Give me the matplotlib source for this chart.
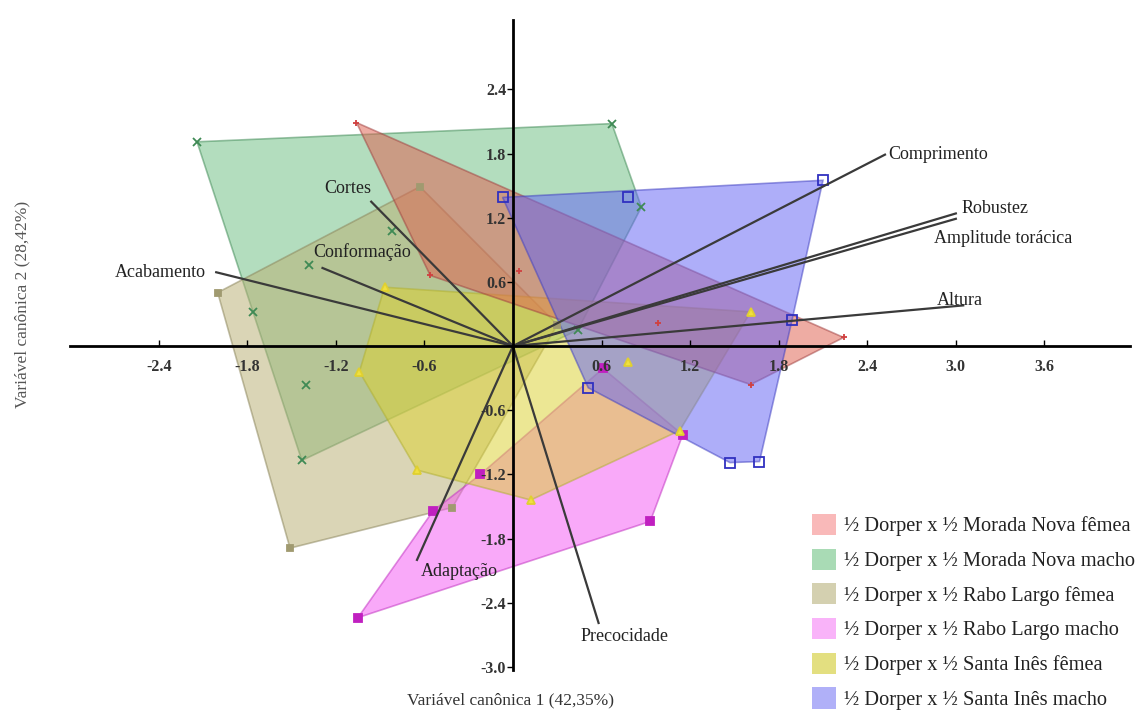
import numpy as np
import matplotlib
matplotlib.use("Agg")
import matplotlib.pyplot as plt
from matplotlib.patches import Polygon, Patch

plt.rcParams['font.family'] = ['Liberation Serif', 'DejaVu Serif']

# group names
groups = ["½ Dorper x ½ Morada Nova fêmea",
          "½ Dorper x ½ Morada Nova macho",
          "½ Dorper x ½ Rabo Largo fêmea",
          "½ Dorper x ½ Rabo Largo macho",
          "½ Dorper x ½ Santa Inês fêmea",
          "½ Dorper x ½ Santa Inês macho"]

# hull vertices of each group (canonical scores, CV1 / CV2)
mn_f_x = [-1.06, 2.24, 1.61, -0.56]
mn_f_y = [2.09, 0.08, -0.36, 0.66]
mn_m_x = [-2.14, 0.67, 0.87, 0.44, -1.43]
mn_m_y = [1.91, 2.08, 1.30, 0.15, -1.07]
rl_f_x = [-2.00, -0.63, 0.30, -0.41, -1.51]
rl_f_y = [0.50, 1.49, 0.20, -1.51, -1.89]
rl_m_x = [-1.05, -0.54, -0.22, 0.61, 1.15, 0.93]
rl_m_y = [-2.54, -1.54, -1.20, -0.21, -0.83, -1.64]
si_f_x = [-0.87, 1.61, 1.13, 0.12, -0.65, -1.04]
si_f_y = [0.55, 0.32, -0.79, -1.44, -1.16, -0.24]
si_m_x = [-0.07, 2.10, 1.89, 1.67, 1.47, 0.51]
si_m_y = [1.39, 1.55, 0.24, -1.08, -1.09, -0.39]

# points inside the hulls
mn_f_in_x = [0.04, 0.98]
mn_f_in_y = [0.70, 0.22]
mn_m_in_x = [-1.76, -1.40, -1.38, -0.82]
mn_m_in_y = [0.32, -0.36, 0.76, 1.08]
rl_f_in_x = []
rl_f_in_y = []
rl_m_in_x = []
rl_m_in_y = []
si_f_in_x = [0.78]
si_f_in_y = [-0.15]
si_m_in_x = [0.78]
si_m_in_y = [1.39]

# variable vectors
var_names = ["Comprimento", "Robustez", "Amplitude torácica", "Altura",
             "Acabamento", "Conformação", "Cortes", "Adaptação",
             "Precocidade"]
var_x = [2.52, 3.00, 3.00, 3.05, -2.01, -1.29, -0.96, -0.65, 0.58]
var_y = [1.79, 1.24, 1.19, 0.38, 0.69, 0.73, 1.35, -2.00, -2.59]

xticks = [-2.4, -1.8, -1.2, -0.6, 0.6, 1.2, 1.8, 2.4, 3.0, 3.6]
yticks = [-3.0, -2.4, -1.8, -1.2, -0.6, 0.6, 1.2, 1.8, 2.4]

hulls = [(mn_f_x, mn_f_y), (mn_m_x, mn_m_y), (rl_f_x, rl_f_y),
         (rl_m_x, rl_m_y), (si_f_x, si_f_y), (si_m_x, si_m_y)]
inner = [(mn_f_in_x, mn_f_in_y), (mn_m_in_x, mn_m_in_y),
         (rl_f_in_x, rl_f_in_y), (rl_m_in_x, rl_m_in_y),
         (si_f_in_x, si_f_in_y), (si_m_in_x, si_m_in_y)]

fill_colors = ["#e06050", "#6ebe84", "#b9af73", "#f55af5", "#dcd232", "#6464f5"]
edge_colors = ["#a04040", "#3f8a55", "#8a845a", "#c030c0", "#b0b030", "#4040c0"]
legend_colors = ["#f9b9b9", "#a9dbb5", "#d4d0b0", "#f9b3f9", "#e3df80", "#b0b0f8"]
markers = ["+", "x", "s", "s", "^", "s"]
marker_face = ["#d04040", "#3f8a55", "#a09a70", "#c020c0", "#f0e040", "none"]
marker_edge = ["#d04040", "#3f8a55", "#a09a70", "#c020c0", "#e0d030", "#3030c0"]
marker_size = [5, 6, 4, 6, 6, 7]
# drawing order of the hulls (later ones lie on top)
draw_order = [1, 2, 3, 4, 0, 5]

fig = plt.figure(figsize=(11.41, 7.16), dpi=100)
ax = fig.add_axes([0.0614, 0.0642, 0.929, 0.908])

for k, i in enumerate(draw_order):
    hx, hy = hulls[i]
    poly = Polygon(np.column_stack([hx, hy]), closed=True,
                   facecolor=fill_colors[i], edgecolor=edge_colors[i],
                   alpha=0.52, lw=1.2, zorder=2 + 0.01 * k)
    ax.add_patch(poly)

for i, (hx, hy) in enumerate(hulls):
    px = list(hx) + list(inner[i][0])
    py = list(hy) + list(inner[i][1])
    ax.plot(px, py, ls="none", marker=markers[i], ms=marker_size[i],
            mfc=marker_face[i], mec=marker_edge[i], mew=1.3, zorder=4)

for vx, vy in zip(var_x, var_y):
    ax.plot([0, vx], [0, vy], color="#3a3a3a", lw=1.6, zorder=5)

# variable labels
lab_pos = {"Comprimento": (0.02, 0.0, "left", "center"),
           "Robustez": (0.04, 0.05, "left", "center"),
           "Amplitude torácica": (-0.15, -0.18, "left", "center"),
           "Altura": (-0.18, 0.05, "left", "center"),
           "Acabamento": (-0.07, 0.0, "right", "center"),
           "Conformação": (0.60, 0.15, "right", "center"),
           "Cortes": (0.0, 0.12, "right", "center"),
           "Adaptação": (0.55, -0.11, "right", "center"),
           "Precocidade": (-0.12, -0.13, "left", "center")}
for name, vx, vy in zip(var_names, var_x, var_y):
    dx, dy, ha, va = lab_pos[name]
    ax.text(vx + dx, vy + dy, name, fontsize=13, ha=ha, va=va,
            color="#222222", zorder=6)

ax.set_xlim(-3.0, 4.18)
ax.set_ylim(-3.03, 3.05)
for s in ["top", "right"]:
    ax.spines[s].set_visible(False)
ax.spines["left"].set_position(("data", 0))
ax.spines["bottom"].set_position(("data", 0))
ax.spines["left"].set_linewidth(2)
ax.spines["bottom"].set_linewidth(2)
ax.spines["left"].set_zorder(7)
ax.spines["bottom"].set_zorder(7)
ax.xaxis.set_zorder(8)
ax.yaxis.set_zorder(8)
ax.set_xticks(xticks)
ax.set_yticks(yticks)
ax.set_xticklabels(["%.1f" % t for t in xticks], fontweight="bold")
ax.set_yticklabels(["%.1f" % t for t in yticks], fontweight="bold")
ax.tick_params(axis="x", direction="in", length=4, width=1, pad=9,
               labelsize=11.5, labelcolor="#333333")
ax.tick_params(axis="y", direction="out", length=4, width=1, pad=1,
               labelsize=11.5, labelcolor="#333333")
ax.set_facecolor("none")

fig.text(0.447, 0.022, "Variável canônica 1 (42,35%)", fontsize=12.5,
         ha="center", va="center", color="#333333")
fig.text(0.020, 0.575, "Variável canônica 2 (28,42%)", fontsize=12.5,
         ha="center", va="center", rotation=90, color="#555555")

handles = [Patch(facecolor=c, edgecolor="none") for c in legend_colors]
fig.legend(handles, groups, loc="lower right",
           bbox_to_anchor=(1.006, -0.010), frameon=False, fontsize=14.7,
           handlelength=1.22, handleheight=1.22, labelspacing=0.6,
           handletextpad=0.35, borderaxespad=0.25, labelcolor="#222222")

fig.savefig("out.png", dpi=100)
